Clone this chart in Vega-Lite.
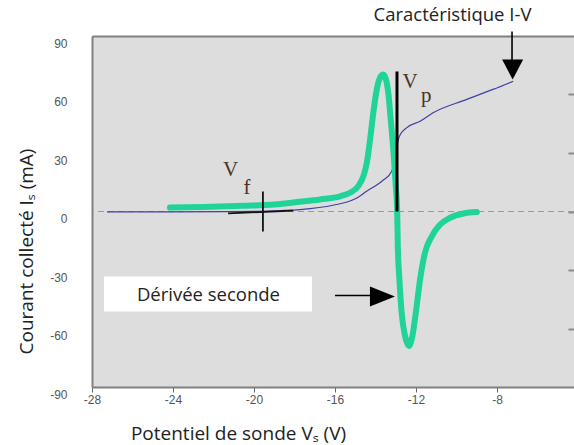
{
  "$schema": "https://vega.github.io/schema/vega-lite/v6.json",
  "width": 482,
  "height": 351,
  "autosize": {"type": "none"},
  "padding": {"left": 92, "top": 36, "right": 0, "bottom": 58},
  "background": "white",
  "config": {"view": {"fill": "#dddddd", "stroke": null}},
  "datasets": {
    "curves": [
      {"series": "iv", "x": -27.26, "y": -0.2},
      {"series": "iv", "x": -24, "y": -0.2},
      {"series": "iv", "x": -21.5, "y": -0.1},
      {"series": "iv", "x": -20, "y": 0.1},
      {"series": "iv", "x": -18.7, "y": 0.5},
      {"series": "iv", "x": -17.73, "y": 1.0},
      {"series": "iv", "x": -16.1, "y": 3.2},
      {"series": "iv", "x": -15.0, "y": 6.5},
      {"series": "iv", "x": -14.42, "y": 10.5},
      {"series": "iv", "x": -13.63, "y": 16.0},
      {"series": "iv", "x": -13.2, "y": 20.7},
      {"series": "iv", "x": -13.05, "y": 26},
      {"series": "iv", "x": -12.95, "y": 33.0},
      {"series": "iv", "x": -12.82, "y": 38.6},
      {"series": "iv", "x": -12.47, "y": 42.9},
      {"series": "iv", "x": -11.8, "y": 46.3},
      {"series": "iv", "x": -11.16, "y": 50.6},
      {"series": "iv", "x": -9.52, "y": 57.4},
      {"series": "iv", "x": -8.2, "y": 62.6},
      {"series": "iv", "x": -7.2, "y": 66.8},
      {"series": "d2", "x": -24.15, "y": 2.0},
      {"series": "d2", "x": -22.5, "y": 2.3},
      {"series": "d2", "x": -20.5, "y": 2.9},
      {"series": "d2", "x": -19.0, "y": 3.6},
      {"series": "d2", "x": -17.73, "y": 5.0},
      {"series": "d2", "x": -16.74, "y": 6.2},
      {"series": "d2", "x": -15.75, "y": 7.8},
      {"series": "d2", "x": -15.26, "y": 9.6},
      {"series": "d2", "x": -14.85, "y": 13.0},
      {"series": "d2", "x": -14.6, "y": 18.1},
      {"series": "d2", "x": -14.43, "y": 25.0},
      {"series": "d2", "x": -14.27, "y": 36.9},
      {"series": "d2", "x": -14.11, "y": 50.6},
      {"series": "d2", "x": -13.94, "y": 62.5},
      {"series": "d2", "x": -13.78, "y": 68.5},
      {"series": "d2", "x": -13.62, "y": 70.2},
      {"series": "d2", "x": -13.48, "y": 67.5},
      {"series": "d2", "x": -13.37, "y": 60.9},
      {"series": "d2", "x": -13.25, "y": 47.2},
      {"series": "d2", "x": -13.11, "y": 30.1},
      {"series": "d2", "x": -13.0, "y": 13.0},
      {"series": "d2", "x": -12.93, "y": 0},
      {"series": "d2", "x": -12.9, "y": -17.8},
      {"series": "d2", "x": -12.82, "y": -34.9},
      {"series": "d2", "x": -12.71, "y": -51.9},
      {"series": "d2", "x": -12.54, "y": -63.9},
      {"series": "d2", "x": -12.35, "y": -69.0},
      {"series": "d2", "x": -12.18, "y": -63.9},
      {"series": "d2", "x": -12.01, "y": -51.9},
      {"series": "d2", "x": -11.8, "y": -34.9},
      {"series": "d2", "x": -11.56, "y": -21.2},
      {"series": "d2", "x": -11.22, "y": -12.7},
      {"series": "d2", "x": -10.81, "y": -6.7},
      {"series": "d2", "x": -10.32, "y": -3.2},
      {"series": "d2", "x": -9.66, "y": -1.0},
      {"series": "d2", "x": -9.0, "y": -0.3}
    ],
    "rules": [
      {"kind": "vp", "x": -12.94, "x2": -12.94, "y": 0, "y2": 71.8},
      {"kind": "vf", "x": -19.56, "x2": -19.56, "y": 10.3, "y2": -10.3},
      {"kind": "vf", "x": -21.28, "x2": -18.07, "y": -1.0, "y2": 0.5},
      {"kind": "arrow", "x": -7.26, "x2": -7.26, "y": 92.3, "y2": 76.9},
      {"kind": "arrow", "x": -16.0, "x2": -13.9, "y": -43.1, "y2": -43.1}
    ],
    "heads": [
      {"dir": "down", "x": -7.23, "y": 72.8},
      {"dir": "right", "x": -13.66, "y": -43.6}
    ],
    "labels": [
      {"text": "Caractéristique I-V", "x": -10.2, "y": 101.0},
      {"text": "Dérivée seconde", "x": -22.25, "y": -42.6}
    ],
    "letters": [
      {"text": "V", "x": -12.3, "y": 66.2},
      {"text": "p", "x": -11.5, "y": 59.0},
      {"text": "V", "x": -21.16, "y": 21.3},
      {"text": "f", "x": -20.35, "y": 12.1}
    ],
    "box": [
      {"x": -27.41, "x2": -17.14, "y": -33.3, "y2": -51.3}
    ]
  },
  "layer": [
    {
      "data": {"values": [{"y": 0}]},
      "mark": {"type": "rule", "color": "#9a9a9a", "strokeDash": [6, 4], "strokeWidth": 1.2},
      "encoding": {
        "y": {"field": "y", "type": "quantitative", "scale": {"domain": [-90, 90], "nice": false, "zero": false}, "axis": null}
      }
    },
    {
      "data": {"name": "box"},
      "mark": {"type": "rect", "fill": "white"},
      "encoding": {
        "x": {"field": "x", "type": "quantitative", "scale": {"domain": [-28, -4.2], "nice": false, "zero": false}, "axis": null},
        "x2": {"field": "x2"},
        "y": {"field": "y", "type": "quantitative", "scale": {"domain": [-90, 90], "nice": false, "zero": false}, "axis": null},
        "y2": {"field": "y2"}
      }
    },
    {
      "data": {"name": "curves"},
      "transform": [{"filter": "datum.series == 'iv'"}],
      "mark": {"type": "line", "color": "#4040a4", "strokeWidth": 1.2, "interpolate": "monotone"},
      "encoding": {
        "x": {
          "field": "x", "type": "quantitative",
          "scale": {"domain": [-28, -4.2], "nice": false, "zero": false},
          "axis": {
            "orient": "bottom", "values": [-28, -24, -20, -16, -12, -8],
            "labelExpr": "datum.value + ''",
            "domainColor": "#808080", "domainWidth": 2,
            "tickColor": "#666666", "tickSize": 5, "tickWidth": 1,
            "labelFont": "Liberation Sans", "labelFontSize": 12, "labelColor": "#555555", "labelPadding": 2,
            "labelFlush": false, "labelOverlap": false, "grid": false,
            "title": "Potentiel de sonde Vₛ (V)", "titleFont": "Open Sans", "titleFontSize": 19,
            "titleFontWeight": "normal", "titleColor": "#222222",
            "titleX": 146, "titleY": 46, "titleAlign": "center", "titleBaseline": "middle"
          }
        },
        "y": {
          "field": "y", "type": "quantitative",
          "scale": {"domain": [-90, 90], "nice": false, "zero": false},
          "axis": {
            "orient": "left", "values": [-90, -60, -30, 0, 30, 60, 90],
            "labelExpr": "datum.value + ''",
            "domainColor": "#808080", "domainWidth": 2,
            "ticks": false, "tickSize": 0, "labelPadding": 25, "labelOffset": 7,
            "labelFont": "Liberation Sans", "labelFontSize": 12, "labelColor": "#555555",
            "labelFlush": false, "labelOverlap": false, "grid": false,
            "title": "Courant collecté Iₛ (mA)", "titleFont": "Open Sans", "titleFontSize": 19,
            "titleFontWeight": "normal", "titleColor": "#222222",
            "titleX": -66, "titleY": 215, "titleAngle": 270, "titleAlign": "center", "titleBaseline": "middle"
          }
        }
      }
    },
    {
      "data": {"name": "curves"},
      "transform": [{"filter": "datum.series == 'd2'"}],
      "mark": {"type": "line", "color": "#1fd399", "strokeWidth": 6, "interpolate": "monotone", "strokeCap": "round"},
      "encoding": {
        "x": {
          "field": "x", "type": "quantitative",
          "scale": {"domain": [-28, -4.2], "nice": false, "zero": false},
          "axis": {"orient": "top", "domainColor": "#808080", "domainWidth": 2, "ticks": false, "labels": false, "grid": false, "title": null}
        },
        "y": {
          "field": "y", "type": "quantitative",
          "scale": {"domain": [-90, 90], "nice": false, "zero": false},
          "axis": {"orient": "right", "offset": -6, "domain": false, "ticks": true, "tickSize": 6, "tickColor": "#8a8a8a", "tickWidth": 2, "labels": false, "grid": false, "title": null, "values": [-60, -30, 0, 30, 60]}
        }
      }
    },
    {
      "data": {"name": "rules"},
      "transform": [{"filter": "datum.kind == 'vp'"}],
      "mark": {"type": "rule", "color": "black", "strokeWidth": 3},
      "encoding": {
        "x": {"field": "x", "type": "quantitative", "scale": {"domain": [-28, -4.2], "nice": false, "zero": false}, "axis": null},
        "x2": {"field": "x2"},
        "y": {"field": "y", "type": "quantitative", "scale": {"domain": [-90, 90], "nice": false, "zero": false}, "axis": null},
        "y2": {"field": "y2"}
      }
    },
    {
      "data": {"name": "rules"},
      "transform": [{"filter": "datum.kind == 'vf'"}],
      "mark": {"type": "rule", "color": "#111111", "strokeWidth": 1.8},
      "encoding": {
        "x": {"field": "x", "type": "quantitative", "scale": {"domain": [-28, -4.2], "nice": false, "zero": false}, "axis": null},
        "x2": {"field": "x2"},
        "y": {"field": "y", "type": "quantitative", "scale": {"domain": [-90, 90], "nice": false, "zero": false}, "axis": null},
        "y2": {"field": "y2"}
      }
    },
    {
      "data": {"name": "rules"},
      "transform": [{"filter": "datum.kind == 'arrow'"}],
      "mark": {"type": "rule", "color": "black", "strokeWidth": 1.6},
      "encoding": {
        "x": {"field": "x", "type": "quantitative", "scale": {"domain": [-28, -4.2], "nice": false, "zero": false}, "axis": null},
        "x2": {"field": "x2"},
        "y": {"field": "y", "type": "quantitative", "scale": {"domain": [-90, 90], "nice": false, "zero": false}, "axis": null},
        "y2": {"field": "y2"}
      }
    },
    {
      "data": {"name": "heads"},
      "transform": [{"filter": "datum.dir == 'down'"}],
      "mark": {"type": "point", "shape": "M-1,-0.95L1,-0.95L0,0.95Z", "size": 441, "filled": true, "color": "black", "opacity": 1},
      "encoding": {
        "x": {"field": "x", "type": "quantitative", "scale": {"domain": [-28, -4.2], "nice": false, "zero": false}, "axis": null},
        "y": {"field": "y", "type": "quantitative", "scale": {"domain": [-90, 90], "nice": false, "zero": false}, "axis": null}
      }
    },
    {
      "data": {"name": "heads"},
      "transform": [{"filter": "datum.dir == 'right'"}],
      "mark": {"type": "point", "shape": "M-1,-0.8L1,0L-1,0.8Z", "size": 625, "filled": true, "color": "black", "opacity": 1},
      "encoding": {
        "x": {"field": "x", "type": "quantitative", "scale": {"domain": [-28, -4.2], "nice": false, "zero": false}, "axis": null},
        "y": {"field": "y", "type": "quantitative", "scale": {"domain": [-90, 90], "nice": false, "zero": false}, "axis": null}
      }
    },
    {
      "data": {"name": "labels"},
      "mark": {"type": "text", "font": "Open Sans", "fontSize": 18.5, "color": "#222222", "align": "center", "baseline": "middle"},
      "encoding": {
        "x": {"field": "x", "type": "quantitative", "scale": {"domain": [-28, -4.2], "nice": false, "zero": false}, "axis": null},
        "y": {"field": "y", "type": "quantitative", "scale": {"domain": [-90, 90], "nice": false, "zero": false}, "axis": null},
        "text": {"field": "text"}
      }
    },
    {
      "data": {"name": "letters"},
      "mark": {"type": "text", "font": "Liberation Serif", "fontSize": 21, "color": "#4a3422", "align": "center", "baseline": "middle"},
      "encoding": {
        "x": {"field": "x", "type": "quantitative", "scale": {"domain": [-28, -4.2], "nice": false, "zero": false}, "axis": null},
        "y": {"field": "y", "type": "quantitative", "scale": {"domain": [-90, 90], "nice": false, "zero": false}, "axis": null},
        "text": {"field": "text"}
      }
    }
  ],
  "resolve": {"axis": {"x": "independent", "y": "independent"}}
}
